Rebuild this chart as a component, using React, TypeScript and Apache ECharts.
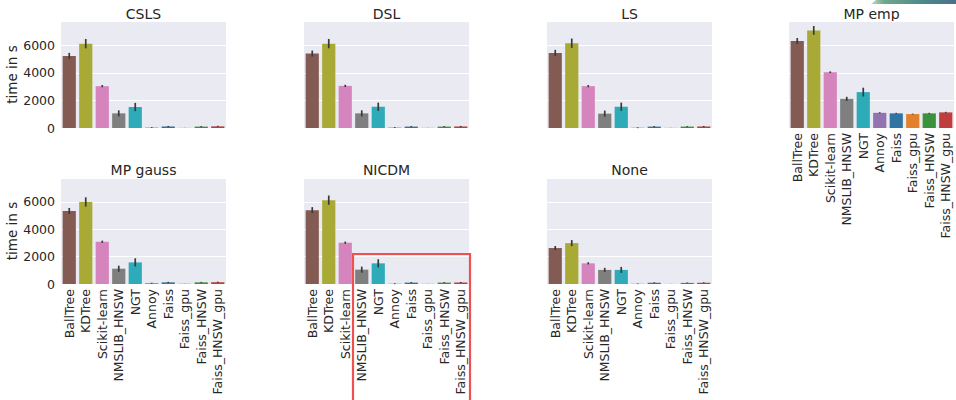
import React, { useEffect, useRef } from 'react';
import * as echarts from 'echarts';

const categories = ['BallTree', 'KDTree', 'Scikit-learn', 'NMSLIB_HNSW', 'NGT', 'Annoy', 'Faiss', 'Faiss_gpu', 'Faiss_HNSW', 'Faiss_HNSW_gpu'];
const panelNames = ['CSLS', 'DSL', 'LS', 'MP emp', 'MP gauss', 'NICDM', 'None'];

const cslsTime = [5220, 6110, 3030, 1060, 1520, 30, 110, 10, 100, 120];
const cslsErr = [220, 340, 80, 220, 300, 30, 40, 5, 35, 40];
const dslTime = [5390, 6110, 3050, 1060, 1540, 30, 100, 10, 100, 110];
const dslErr = [220, 340, 80, 220, 300, 30, 40, 5, 35, 40];
const lsTime = [5440, 6140, 3030, 1040, 1540, 20, 100, 10, 100, 110];
const lsErr = [220, 340, 80, 220, 300, 30, 40, 5, 35, 40];
const mpEmpTime = [6300, 7070, 4040, 2110, 2600, 1100, 1060, 1010, 1060, 1130];
const mpEmpErr = [220, 320, 60, 150, 320, 40, 40, 30, 40, 40];
const mpGaussTime = [5340, 6000, 3090, 1120, 1580, 60, 120, 20, 120, 130];
const mpGaussErr = [220, 340, 80, 220, 300, 35, 40, 5, 35, 40];
const nicdmTime = [5400, 6130, 3020, 1050, 1510, 20, 100, 10, 100, 110];
const nicdmErr = [220, 340, 80, 220, 300, 30, 40, 5, 35, 40];
const noneTime = [2630, 2990, 1510, 1030, 1030, 15, 90, 5, 80, 90];
const noneErr = [150, 220, 80, 150, 220, 20, 35, 5, 30, 35];

const yMax = 7750;
const yInterval = 2000;

const panelTimes = [cslsTime, dslTime, lsTime, mpEmpTime, mpGaussTime, nicdmTime, noneTime];
const panelErrs = [cslsErr, dslErr, lsErr, mpEmpErr, mpGaussErr, nicdmErr, noneErr];

const colors = ['#845b53', '#a9aa35', '#d684bd', '#7f7f7f', '#2eabb8', '#9372b2', '#3274a1', '#e1812c', '#3a923a', '#c03d3e'];

const layout = [
  { left: 61, top: 21, height: 107, yLabels: true, xLabels: false },
  { left: 304, top: 21, height: 107, yLabels: false, xLabels: false },
  { left: 547, top: 21, height: 107, yLabels: false, xLabels: false },
  { left: 789, top: 21, height: 107, yLabels: false, xLabels: true },
  { left: 61, top: 178, height: 106, yLabels: true, xLabels: true },
  { left: 304, top: 178, height: 106, yLabels: false, xLabels: true },
  { left: 547, top: 178, height: 106, yLabels: false, xLabels: true },
];
const gridWidth = 165;
const font = 'DejaVu Sans';
const textColor = '#262626';

export default function App() {
  const ref = useRef<HTMLDivElement>(null);
  useEffect(() => {
    if (!ref.current) return;
    const chart = echarts.init(ref.current, undefined, { renderer: 'svg' });

    const grids: any[] = [];
    const xAxes: any[] = [];
    const yAxes: any[] = [];
    const series: any[] = [];
    const graphics: any[] = [];

    layout.forEach((l, k) => {
      grids.push({
        left: l.left, top: l.top, width: gridWidth, height: l.height,
        show: true, backgroundColor: '#EAEAF2', borderWidth: 0,
        containLabel: false, outerBoundsMode: 'none',
      });
      xAxes.push({
        type: 'category', gridIndex: k, data: categories,
        axisLine: { show: false }, axisTick: { show: false }, splitLine: { show: false },
        axisLabel: {
          show: l.xLabels, rotate: 90, interval: 0, fontSize: 12.5, color: textColor,
          fontFamily: font, margin: 5,
        },
      });
      yAxes.push({
        type: 'value', gridIndex: k, min: 0, max: yMax, interval: yInterval,
        axisLine: { show: false }, axisTick: { show: false },
        splitLine: { show: true, lineStyle: { color: '#ffffff', width: 1 } },
        axisLabel: {
          show: l.yLabels, fontSize: 12.5, color: textColor, fontFamily: font, margin: 6,
          showMaxLabel: false,
          formatter: (v: number) => String(v),
        },
        name: l.yLabels ? 'time in s' : '',
        nameLocation: 'middle', nameRotate: 90, nameGap: 41,
        nameTextStyle: { fontSize: 13.5, color: textColor, fontFamily: font },
      });
      const vals = panelTimes[k];
      const errs = panelErrs[k];
      series.push({
        type: 'bar', xAxisIndex: k, yAxisIndex: k, barWidth: '80%',
        data: vals.map((v, i) => ({ value: v, itemStyle: { color: colors[i] } })),
        z: 2,
      });
      series.push({
        type: 'custom', xAxisIndex: k, yAxisIndex: k, z: 5,
        data: vals.map((v, i) => [i, v - errs[i], v + errs[i]]),
        encode: { x: 0, y: [1, 2] },
        renderItem: (params: any, api: any) => {
          const lo = api.coord([api.value(0), api.value(1)]);
          const hi = api.coord([api.value(0), api.value(2)]);
          return {
            type: 'line',
            shape: { x1: lo[0], y1: lo[1], x2: hi[0], y2: hi[1] },
            style: { stroke: '#3a3a3a', lineWidth: 1.7 },
          };
        },
      });
      graphics.push({
        type: 'text',
        x: l.left + gridWidth / 2,
        y: k < 4 ? 14 : 170,
        style: {
          text: panelNames[k], textAlign: 'center', textVerticalAlign: 'middle',
          fill: textColor, font: `14px "${font}"`,
        },
      });
    });

    graphics.push({
      type: 'rect',
      shape: { x: 353, y: 254, width: 117, height: 160 },
      style: { fill: 'none', stroke: '#ef5050', lineWidth: 2.2 },
      z: 100,
    });
    graphics.push({
      type: 'polygon',
      shape: { points: [[876, 0], [956, 0], [956, 4], [871, 4]] },
      style: {
        fill: new echarts.graphic.LinearGradient(0, 0, 1, 0, [
          { offset: 0, color: '#c8dcc8' },
          { offset: 0.15, color: '#6fa88a' },
          { offset: 0.6, color: '#4d8a8a' },
          { offset: 1, color: '#4a6f8c' },
        ]),
      },
      z: 100,
    });

    chart.setOption({
      animation: false,
      backgroundColor: '#ffffff',
      grid: grids,
      xAxis: xAxes,
      yAxis: yAxes,
      series,
      graphic: graphics,
    });
    return () => chart.dispose();
  }, []);
  return <div ref={ref} style={{ position: 'fixed', left: 0, top: 0, width: 956, height: 400 }} />;
}
